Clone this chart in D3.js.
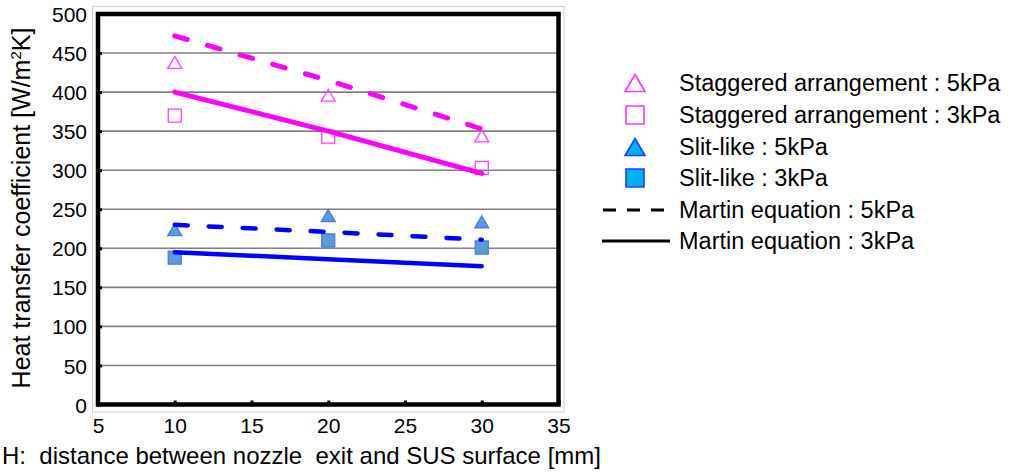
<!DOCTYPE html>
<html>
<head>
<meta charset="utf-8">
<script src="https://cdn.jsdelivr.net/npm/d3@7"></script>
<style>
  html, body { margin: 0; padding: 0; background: #fff; }
  svg { display: block; font-family: Arial, "Liberation Sans", sans-serif; }
</style>
</head>
<body>
<svg id="chart" width="1015" height="473"></svg>
<script>
// Nozzle distance H [mm]
const distances = [10, 20, 30];

// Measured heat transfer coefficients [W/m2K]
const staggered5kPa = [438, 396, 344];
const staggered3kPa = [370, 343, 303];
const slit5kPa = [224, 242, 234];
const slit3kPa = [188, 210, 201];

// Martin equation predictions [W/m2K]
const martinStaggered5kPa = [472, 415, 353];
const martinStaggered3kPa = [400, 350, 296];
const martinSlit5kPa = [230, 221, 211];
const martinSlit3kPa = [195, 186, 177];

const xTicks = [5, 10, 15, 20, 25, 30, 35];
const yTicks = [0, 50, 100, 150, 200, 250, 300, 350, 400, 450, 500];

const legendLabels = [
  "Staggered arrangement : 5kPa",
  "Staggered arrangement : 3kPa",
  "Slit-like : 5kPa",
  "Slit-like : 3kPa",
  "Martin equation : 5kPa",
  "Martin equation : 3kPa"
];

const svg = d3.select("#chart");
const plot = { left: 98, right: 558.5, top: 14, bottom: 404.5 };

const x = d3.scaleLinear().domain([5, 35]).range([plot.left, plot.right]);
const y = d3.scaleLinear().domain([0, 500]).range([plot.bottom, plot.top]);

const magenta = "#ff00ff";
const blue = "#0000ff";
const fontStack = "Arial, 'Liberation Sans', sans-serif";

// outer chart frame
svg.append("rect")
  .attr("x", 92.5).attr("y", 6.5).attr("width", 471.5).attr("height", 405.5)
  .attr("fill", "none").attr("stroke", "#d0d0d0").attr("stroke-width", 1);

// horizontal gridlines
svg.append("g")
  .selectAll("line")
  .data(yTicks.filter(d => d > 0 && d < 500))
  .join("line")
  .attr("x1", plot.left).attr("x2", plot.right)
  .attr("y1", d => y(d)).attr("y2", d => y(d))
  .attr("stroke", "#808080").attr("stroke-width", 1.6);

// axes with inward tick marks
const yAxis = d3.axisLeft(y).tickValues(yTicks).tickSize(-4).tickPadding(11);
const gy = svg.append("g").attr("transform", `translate(${plot.left},0)`).call(yAxis);
gy.select(".domain").remove();
gy.selectAll(".tick line").attr("stroke", "#000").attr("stroke-width", 3);
gy.selectAll(".tick text")
  .attr("font-size", 21).attr("fill", "#000")
  .attr("font-family", fontStack)
  .attr("dy", "0.36em");

const xAxis = d3.axisBottom(x).tickValues(xTicks).tickSize(-4).tickPadding(14);
const gx = svg.append("g").attr("transform", `translate(0,${plot.bottom})`).call(xAxis);
gx.select(".domain").remove();
gx.selectAll(".tick line").attr("stroke", "#000").attr("stroke-width", 3);
gx.selectAll(".tick text")
  .attr("font-size", 21).attr("fill", "#000")
  .attr("font-family", fontStack);

// plot frame
svg.append("rect")
  .attr("x", plot.left).attr("y", plot.top)
  .attr("width", plot.right - plot.left).attr("height", plot.bottom - plot.top)
  .attr("fill", "none").attr("stroke", "#000").attr("stroke-width", 4.5);

// marker symbols
const triPath = (cx, cy, w, h) =>
  `M${cx},${cy - h / 2}L${cx + w / 2},${cy + h / 2}L${cx - w / 2},${cy + h / 2}Z`;
const sqPath = (cx, cy, s) =>
  `M${cx - s / 2},${cy - s / 2}h${s}v${s}h${-s}Z`;

function drawMarkers(values, shape, fill, stroke, sw) {
  svg.append("g")
    .selectAll("path")
    .data(distances.map((d, i) => [d, values[i]]))
    .join("path")
    .attr("d", d => shape === "tri"
      ? triPath(x(d[0]), y(d[1]), 14, 12)
      : sqPath(x(d[0]), y(d[1]), 13))
    .attr("fill", fill).attr("stroke", stroke).attr("stroke-width", sw);
}

drawMarkers(staggered5kPa, "tri", "none", "#ff40ff", 1.3);
drawMarkers(staggered3kPa, "sq", "none", "#ff40ff", 1.3);
drawMarkers(slit5kPa, "tri", "#5b9bd5", "#4a7ee0", 1.3);
drawMarkers(slit3kPa, "sq", "#5b9bd5", "#4a7ee0", 1.3);

// Martin equation lines
const line = d3.line().x(d => x(d[0])).y(d => y(d[1]));
function drawLine(values, color, width, dash) {
  svg.append("path")
    .datum(distances.map((d, i) => [d, values[i]]))
    .attr("d", line)
    .attr("fill", "none").attr("stroke", color)
    .attr("stroke-width", width)
    .attr("stroke-linecap", "round")
    .attr("stroke-dasharray", dash);
}
drawLine(martinStaggered5kPa, magenta, 5, "13,21");
drawLine(martinStaggered3kPa, magenta, 5, null);
drawLine(martinSlit5kPa, blue, 4.5, "13,21");
drawLine(martinSlit3kPa, blue, 4.5, null);

// axis titles
svg.append("text")
  .attr("transform", "translate(30,208) rotate(-90)")
  .attr("text-anchor", "middle")
  .attr("font-size", 25).attr("fill", "#000")
  .call(t => {
    t.append("tspan").text("Heat transfer coefficient [W/m");
    t.append("tspan").attr("font-size", 15).attr("dy", -9).text("2");
    t.append("tspan").attr("dy", 9).text("K]");
  });

svg.append("text")
  .attr("x", 2).attr("y", 464)
  .attr("font-size", 24).attr("fill", "#000")
  .style("white-space", "pre")
  .text("H:  distance between nozzle  exit and SUS surface [mm]");

// legend
const legendX = 635, textX = 679;
const rowY = [83, 115, 147, 178, 210, 241];
const legend = svg.append("g");
legend.append("path").attr("d", triPath(legendX, rowY[0], 20, 17))
  .attr("fill", "#fff").attr("stroke", "#ff33ff").attr("stroke-width", 1.6);
legend.append("path").attr("d", sqPath(legendX, rowY[1], 18))
  .attr("fill", "#fff").attr("stroke", "#ff33ff").attr("stroke-width", 1.6);
legend.append("path").attr("d", triPath(legendX, rowY[2], 20, 17))
  .attr("fill", "#00b0f0").attr("stroke", "#1f3fff").attr("stroke-width", 1.6);
legend.append("path").attr("d", sqPath(legendX, rowY[3], 18))
  .attr("fill", "#00b0f0").attr("stroke", "#1f3fff").attr("stroke-width", 1.6);
legend.append("line")
  .attr("x1", 603).attr("x2", 666).attr("y1", rowY[4]).attr("y2", rowY[4])
  .attr("stroke", "#000").attr("stroke-width", 3).attr("stroke-dasharray", "13,11");
legend.append("line")
  .attr("x1", 602).attr("x2", 670).attr("y1", rowY[5]).attr("y2", rowY[5])
  .attr("stroke", "#000").attr("stroke-width", 3);
legend.selectAll("text.lbl")
  .data(legendLabels)
  .join("text")
  .attr("class", "lbl")
  .attr("x", textX).attr("y", (d, i) => rowY[i])
  .attr("dy", "0.36em")
  .attr("font-size", 23.5).attr("fill", "#000")
  .text(d => d);
</script>
</body>
</html>
